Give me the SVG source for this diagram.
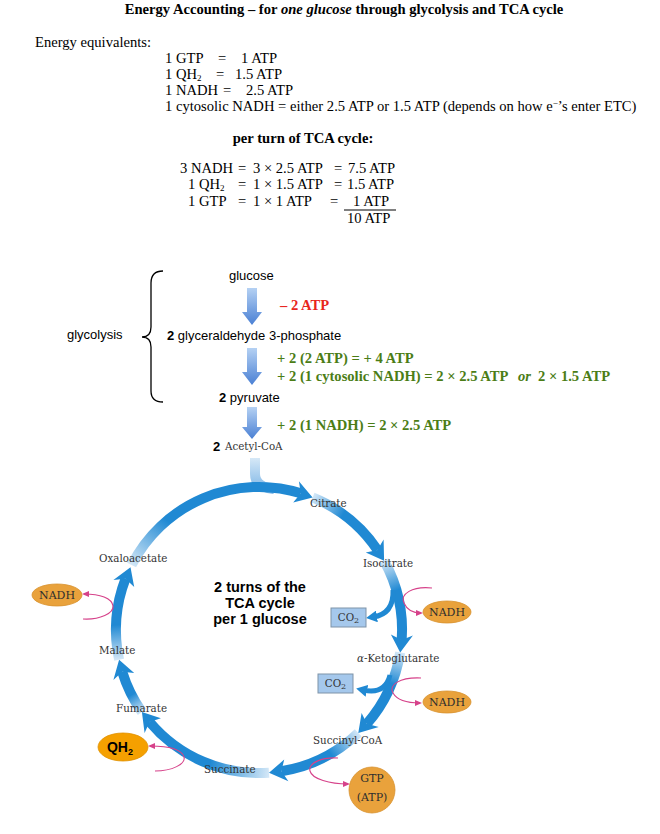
<svg xmlns="http://www.w3.org/2000/svg" width="660" height="834" viewBox="0 0 660 834">
<style>
.t{font-family:"Liberation Serif",serif;font-size:14.6px;fill:#000}
.tb{font-family:"Liberation Serif",serif;font-size:14.6px;font-weight:bold;fill:#000}
.s{font-family:"Liberation Sans",Arial,sans-serif;font-size:13px;fill:#000}
.sb{font-family:"Liberation Sans",Arial,sans-serif;font-size:13px;font-weight:bold;fill:#000}
.ctr{font-family:"Liberation Sans",Arial,sans-serif;font-size:14.5px;font-weight:bold;fill:#000;text-anchor:middle}
.grn{font-family:"Liberation Serif",serif;font-size:14.6px;font-weight:bold;fill:#4b7d16}
.red{font-family:"Liberation Serif",serif;font-size:14.6px;font-weight:bold;fill:#e8261c}
.lbl{font-family:"DejaVu Serif",serif;font-size:10.3px;fill:#333}
.mol{font-family:"DejaVu Serif",serif;font-size:11px;fill:#2e2e2e;text-anchor:middle}
.arc{fill:none;stroke-width:10}
.ah{fill:#2089d3}
.pink{fill:none;stroke:#d6428a;stroke-width:1.1;marker-end:url(#pk)}
.co2a{fill:none;stroke:#2089d3;stroke-width:5;marker-end:url(#bl)}
.nadh{fill:#e9a23c;stroke:#d8922e;stroke-width:0.8}
.box{fill:#a5c8ec;stroke:#7f93a8;stroke-width:1}
.blk{fill:url(#gblk)}
</style>
<defs>
<linearGradient id="gs"><stop offset="0" stop-color="#d3e7f7"/><stop offset="1" stop-color="#2089d3"/></linearGradient>
<linearGradient id="g1" href="#gs" gradientUnits="userSpaceOnUse" x1="131.6" y1="565.1" x2="167.1" y2="520.5"/>
<linearGradient id="g2" href="#gs" gradientUnits="userSpaceOnUse" x1="312.6" y1="497.4" x2="343.1" y2="514.3"/>
<linearGradient id="g3" href="#gs" gradientUnits="userSpaceOnUse" x1="384.1" y1="560.7" x2="396.5" y2="590.6"/>
<linearGradient id="g4" href="#gs" gradientUnits="userSpaceOnUse" x1="400.2" y1="652.4" x2="391.6" y2="683.6"/>
<linearGradient id="g5" href="#gs" gradientUnits="userSpaceOnUse" x1="358.3" y1="732.9" x2="330.5" y2="753.8"/>
<linearGradient id="g6" href="#gs" gradientUnits="userSpaceOnUse" x1="269.0" y1="772.7" x2="210.1" y2="764.4"/>
<linearGradient id="g7" href="#gs" gradientUnits="userSpaceOnUse" x1="141.9" y1="712.0" x2="131.6" y2="694.9"/>
<linearGradient id="g8" href="#gs" gradientUnits="userSpaceOnUse" x1="119.1" y1="659.7" x2="116.1" y2="625.0"/>
<linearGradient id="gstub" gradientUnits="userSpaceOnUse" x1="0" y1="458" x2="0" y2="490"><stop offset="0" stop-color="#d6e8f7"/><stop offset="1" stop-color="#7fb7e6"/></linearGradient>
<linearGradient id="gblk" x1="0" y1="0" x2="0" y2="1"><stop offset="0" stop-color="#b5d1f3"/><stop offset="1" stop-color="#4a80d4"/></linearGradient>
<marker id="pk" markerUnits="userSpaceOnUse" markerWidth="7" markerHeight="7" refX="5" refY="3.5" orient="auto"><path d="M0,0.5 L7,3.5 L0,6.5 Z" fill="#d6428a"/></marker>
<marker id="bl" markerUnits="userSpaceOnUse" markerWidth="12" markerHeight="12" refX="4" refY="6" orient="auto"><path d="M0,0 L11,6 L0,12 Z" fill="#2089d3"/></marker>
</defs>

<g id="title"><text class="tb" x="344" y="14" text-anchor="middle">Energy Accounting – for <tspan font-style="italic">one glucose</tspan> through glycolysis and TCA cycle</text></g>

<g id="equivalents">
<text class="t" x="35" y="47">Energy equivalents:</text>
<text class="t" y="63"><tspan x="165">1 GTP</tspan><tspan x="218">=</tspan><tspan x="241">1 ATP</tspan></text>
<text class="t" y="79"><tspan x="165">1 QH</tspan><tspan font-size="9" dy="2">2</tspan><tspan x="216" dy="-2">=</tspan><tspan x="235">1.5 ATP</tspan></text>
<text class="t" y="95"><tspan x="165">1 NADH</tspan><tspan x="223">=</tspan><tspan x="246">2.5 ATP</tspan></text>
<text class="t" x="165" y="111">1 cytosolic NADH = either 2.5 ATP or 1.5 ATP (depends on how e<tspan font-size="9" dy="-5">−</tspan><tspan dy="5">’s enter ETC)</tspan></text>
</g>

<g id="per-turn">
<text class="tb" x="303" y="143" text-anchor="middle">per turn of TCA cycle:</text>
<text class="t" y="173"><tspan x="180">3 NADH</tspan><tspan x="238">=</tspan><tspan x="253">3 × 2.5 ATP</tspan><tspan x="334">=</tspan><tspan x="348">7.5 ATP</tspan></text>
<text class="t" y="189"><tspan x="188">1 QH</tspan><tspan font-size="9" dy="2">2</tspan><tspan x="238" dy="-2">=</tspan><tspan x="253">1 × 1.5 ATP</tspan><tspan x="334">=</tspan><tspan x="347">1.5 ATP</tspan></text>
<text class="t" y="206"><tspan x="188">1 GTP</tspan><tspan x="238">=</tspan><tspan x="253">1 × 1 ATP</tspan><tspan x="330">=</tspan><tspan x="353">1 ATP</tspan></text>
<line x1="344" y1="210" x2="396" y2="210" stroke="#000" stroke-width="1"/>
<text class="t" x="347" y="223">10 ATP</text>
</g>

<g id="glycolysis-label">
<text class="s" x="67" y="339">glycolysis</text>
<path d="M163,271 C155,271 151,275 151,283 L151,327 C151,333 148,337 142,337 C148,337 151,341 151,347 L151,391 C151,398 155,402 163,402" fill="none" stroke="#000" stroke-width="1.3"/>
</g>

<g id="glucose"><text class="s" x="229" y="280">glucose</text></g>
<g id="g3p"><text class="s" x="167" y="340"><tspan class="sb">2</tspan> glyceraldehyde 3-phosphate</text></g>
<g id="pyruvate"><text class="s" x="219" y="402"><tspan class="sb">2</tspan> pyruvate</text></g>
<g id="acetylcoa"><text class="sb" x="213" y="451">2</text><text class="lbl" x="225" y="450" font-size="10.5" fill="#555">Acetyl-CoA</text></g>

<g id="yields">
<text class="red" x="280" y="310">– 2 ATP</text>
<text class="grn" x="277" y="363">+ 2 (2 ATP) = + 4 ATP</text>
<text class="grn" x="277" y="381">+ 2 (1 cytosolic NADH) = 2 × 2.5 ATP</text>
<text class="grn" x="518" y="381" font-style="italic">or</text>
<text class="grn" x="538" y="381">2 × 1.5 ATP</text>
<text class="grn" x="277" y="430">+ 2 (1 NADH) = 2 × 2.5 ATP</text>
</g>

<g id="connectors">
<path class="blk" d="M247,288 H257 V312 H262 L252,325 L242,312 H247 Z"/>
<path class="blk" d="M247,348 H257 V372 H262 L252,385 L242,372 H247 Z"/>
<path class="blk" d="M247,407 H257 V427 H262 L252,439 L242,427 H247 Z"/>

<path d="M255,458 L255,474 Q255,487 274,489" fill="none" stroke="url(#gstub)" stroke-width="10"/>

<path class="arc" stroke="url(#g1)" d="M131.6,565.1 A143,143 0 0 1 300.8,493.2"/>
<path class="arc" stroke="url(#g2)" d="M312.6,497.4 A143,143 0 0 1 377.5,550.0"/>
<path class="arc" stroke="url(#g3)" d="M384.1,560.7 A143,143 0 0 1 401.7,640.0"/>
<path class="arc" stroke="url(#g4)" d="M400.2,652.4 A143,143 0 0 1 366.9,723.8"/>
<path class="arc" stroke="url(#g5)" d="M358.3,732.9 A143,143 0 0 1 281.4,771.2"/>
<path class="arc" stroke="url(#g6)" d="M269.0,772.7 A143,143 0 0 1 149.5,721.9"/>
<path class="arc" stroke="url(#g7)" d="M141.9,712.0 A143,143 0 0 1 122.2,671.8"/>
<path class="arc" stroke="url(#g8)" d="M119.1,659.7 A143,143 0 0 1 125.5,578.7"/>

<polygon class="ah" points="312.6,497.4 298.9,481.2 300.8,493.2 293.2,502.5"/>
<polygon class="ah" points="384.1,560.7 383.6,539.5 377.5,550.0 365.8,552.4"/>
<polygon class="ah" points="400.2,652.4 412.9,635.4 401.7,640.0 390.9,634.6"/>
<polygon class="ah" points="358.3,732.9 378.7,726.9 366.9,723.8 361.6,713.1"/>
<polygon class="ah" points="269.0,772.7 288.4,781.2 281.4,771.2 284.2,759.6"/>
<polygon class="ah" points="141.9,712.0 144.6,733.0 149.5,721.9 160.9,718.3"/>
<polygon class="ah" points="119.1,659.7 113.4,680.1 122.2,671.8 134.2,673.0"/>
<polygon class="ah" points="130.5,567.3 113.4,579.9 125.5,578.7 134.2,587.0"/>

<path class="co2a" d="M393,590 Q394,614 373,617"/>
<path class="co2a" d="M390,675 Q385,695 363,690"/>

<path class="pink" d="M432,588 C412,586 400,594 404,603 C407,610 413,613 421,613"/>
<path class="pink" d="M421,678 C400,677 388,685 393,693 C397,700 405,703 420,703"/>
<path class="pink" d="M83,619 C100,620 114,613 113,606 C112,598 100,594 84,594"/>
<path class="pink" d="M155,771 C172,771 186,764 184,757 C182,750 170,746 150,746"/>
<path class="pink" d="M338,758 C322,757 308,763 310,771 C312,779 330,784 348,784"/>
</g>

<g id="citrate"><text class="lbl" x="310" y="507">Citrate</text></g>
<g id="isocitrate"><text class="lbl" x="363" y="567">Isocitrate</text></g>
<g id="ketoglutarate"><text class="lbl" x="357" y="662"><tspan font-style="italic">α</tspan>-Ketoglutarate</text></g>
<g id="succinylcoa"><text class="lbl" x="313" y="744">Succinyl-CoA</text></g>
<g id="succinate"><text class="lbl" x="204" y="773">Succinate</text></g>
<g id="fumarate"><text class="lbl" x="116" y="712">Fumarate</text></g>
<g id="malate"><text class="lbl" x="99" y="654">Malate</text></g>
<g id="oxaloacetate"><text class="lbl" x="99" y="562">Oxaloacetate</text></g>

<g id="center-note">
<text class="ctr" x="260" y="592">2 turns of the</text>
<text class="ctr" x="260" y="608">TCA cycle</text>
<text class="ctr" x="260" y="624">per 1 glucose</text>
</g>

<g id="co2-1"><rect class="box" x="331" y="608" width="35" height="19"/><text class="lbl" x="348.5" y="621" text-anchor="middle" fill="#222">CO<tspan font-size="8" dy="2">2</tspan></text></g>
<g id="co2-2"><rect class="box" x="318" y="674" width="35" height="19"/><text class="lbl" x="335.5" y="687" text-anchor="middle" fill="#222">CO<tspan font-size="8" dy="2">2</tspan></text></g>

<g id="nadh-1"><ellipse class="nadh" cx="447" cy="612" rx="24" ry="11"/><text class="mol" x="447" y="616">NADH</text></g>
<g id="nadh-2"><ellipse class="nadh" cx="447" cy="702" rx="24" ry="11"/><text class="mol" x="447" y="706">NADH</text></g>
<g id="nadh-3"><ellipse class="nadh" cx="57" cy="595" rx="25" ry="11"/><text class="mol" x="57" y="599">NADH</text></g>
<g id="qh2"><ellipse cx="123" cy="747" rx="25" ry="14" fill="#f5a000" stroke="#e09000" stroke-width="0.8"/><text x="120" y="752" text-anchor="middle" font-family="'Liberation Sans',Arial,sans-serif" font-size="14" font-weight="bold">QH<tspan font-size="9" dy="3">2</tspan></text></g>
<g id="gtp"><circle class="nadh" cx="372" cy="790" r="23"/><text class="mol" x="372" y="782">GTP</text><text class="mol" x="372" y="801">(ATP)</text></g>
</svg>
